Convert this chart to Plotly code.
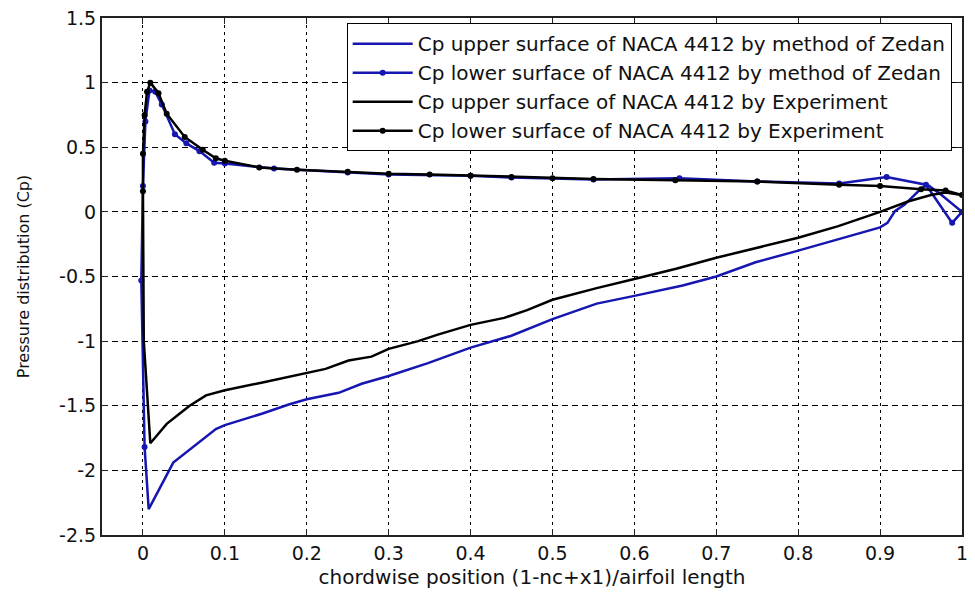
import plotly.graph_objects as go

# ---- data ----
zedan_upper_x = [0.002, 0.007, 0.037, 0.089, 0.1, 0.146, 0.178, 0.2, 0.239, 0.267, 0.3, 0.348,
                 0.4, 0.449, 0.5, 0.554, 0.6, 0.659, 0.7, 0.748, 0.8, 0.849, 0.9, 0.909, 0.918,
                 0.93, 0.95, 0.958, 0.975, 1.0]
zedan_upper_cp = [-1.82, -2.3, -1.94, -1.68, -1.65, -1.56, -1.49, -1.45, -1.40, -1.33, -1.27, -1.17,
                  -1.05, -0.96, -0.83, -0.71, -0.65, -0.57, -0.50, -0.39, -0.30, -0.21, -0.12, -0.085, 0.005,
                  0.056, 0.18, 0.21, 0.13, 0.0]

zedan_lower_x = [0.002, -0.002, 0.0, 0.003, 0.008, 0.015, 0.023, 0.039, 0.053, 0.069, 0.087, 0.1,
                 0.16, 0.25, 0.3, 0.4, 0.45, 0.55, 0.655, 0.75, 0.85, 0.908, 0.956, 0.988, 1.0]
zedan_lower_cp = [-1.82, -0.53, 0.2, 0.7, 0.94, 0.93, 0.83, 0.6, 0.53, 0.47, 0.38, 0.375,
                  0.335, 0.305, 0.29, 0.28, 0.265, 0.25, 0.26, 0.235, 0.22, 0.27, 0.21, -0.085, 0.0]

exp_upper_x = [0.0, 0.001, 0.009, 0.029, 0.045, 0.057, 0.077, 0.1, 0.146, 0.2, 0.223, 0.251, 0.279,
               0.3, 0.336, 0.36, 0.4, 0.441, 0.469, 0.5, 0.554, 0.6, 0.651, 0.7, 0.748, 0.8, 0.849,
               0.9, 0.934, 0.962, 0.98, 1.0]
exp_upper_cp = [0.16, -1.0, -1.79, -1.64, -1.56, -1.5, -1.42, -1.38, -1.32, -1.25, -1.215, -1.15, -1.12,
                -1.06, -1.0, -0.95, -0.874, -0.82, -0.76, -0.68, -0.59, -0.52, -0.44, -0.355, -0.28, -0.2, -0.11,
                0.0, 0.08, 0.13, 0.15, 0.13]

exp_lower_x = [0.0, 0.0, 0.002, 0.005, 0.009, 0.019, 0.029, 0.051, 0.073, 0.089, 0.1, 0.142, 0.188,
               0.25, 0.3, 0.35, 0.4, 0.45, 0.5, 0.55, 0.65, 0.75, 0.85, 0.9, 0.95, 0.98, 1.0]
exp_lower_cp = [0.16, 0.45, 0.75, 0.93, 1.0, 0.918, 0.76, 0.58, 0.48, 0.415, 0.395, 0.344, 0.326,
                0.31, 0.295, 0.29, 0.28, 0.27, 0.26, 0.255, 0.245, 0.235, 0.21, 0.2, 0.175, 0.165, 0.13]

series_names = [
    "Cp upper surface of NACA 4412 by method of Zedan",
    "Cp lower surface of NACA 4412 by method of Zedan",
    "Cp upper surface of NACA 4412 by Experiment",
    "Cp lower surface of NACA 4412 by Experiment",
]

x_tick_vals = [0, 0.1, 0.2, 0.3, 0.4, 0.5, 0.6, 0.7, 0.8, 0.9, 1]
x_tick_text = ["0", "0.1", "0.2", "0.3", "0.4", "0.5", "0.6", "0.7", "0.8", "0.9", "1"]
y_tick_vals = [-2.5, -2, -1.5, -1, -0.5, 0, 0.5, 1, 1.5]
y_tick_text = ["-2.5", "-2", "-1.5", "-1", "-0.5", "0", "0.5", "1", "1.5"]

BLUE = "#1616b0"
BLACK = "#000000"
FONT = "DejaVu Sans"

fig = go.Figure()
fig.add_trace(go.Scatter(x=zedan_upper_x, y=zedan_upper_cp, mode="lines", name=series_names[0],
                         line=dict(color=BLUE, width=2.5)))
fig.add_trace(go.Scatter(x=zedan_lower_x, y=zedan_lower_cp, mode="lines+markers", name=series_names[1],
                         line=dict(color=BLUE, width=2.5), marker=dict(color=BLUE, size=6, symbol="circle")))
fig.add_trace(go.Scatter(x=exp_upper_x, y=exp_upper_cp, mode="lines", name=series_names[2],
                         line=dict(color=BLACK, width=2.5)))
fig.add_trace(go.Scatter(x=exp_lower_x, y=exp_lower_cp, mode="lines+markers", name=series_names[3],
                         line=dict(color=BLACK, width=2.5), marker=dict(color=BLACK, size=6, symbol="circle")))

axis_common = dict(
    showline=True, linecolor="#222222", linewidth=2, mirror="ticks",
    ticks="inside", ticklen=6, tickcolor="#222222",
    showgrid=True, gridcolor="#000000", gridwidth=1.2, zeroline=False,
    tickfont=dict(family=FONT, size=19, color="#111111"),
)

fig.update_xaxes(**axis_common, range=[-0.05, 1.0], tickvals=x_tick_vals, ticktext=x_tick_text,
                 griddash="3px,4px",
                 title=dict(text="chordwise position (1-nc+x1)/airfoil length",
                            font=dict(family=FONT, size=20, color="#111111"), standoff=7))
fig.update_yaxes(**axis_common, range=[-2.5, 1.5], tickvals=y_tick_vals, ticktext=y_tick_text,
                 griddash="6px,4px",
                 title=dict(text="Pressure distribution (Cp)",
                            font=dict(family=FONT, size=16, color="#111111"), standoff=26))

fig.update_layout(
    width=975, height=595,
    margin=dict(l=102, r=7, t=16, b=60),
    plot_bgcolor="white", paper_bgcolor="white",
    font=dict(family=FONT, color="#111111"),
    showlegend=True,
    legend=dict(x=0.988, y=0.99, xanchor="right", yanchor="top",
                bgcolor="white", bordercolor="#000000", borderwidth=1,
                font=dict(family=FONT, size=20, color="#111111"),
                itemwidth=60, tracegroupgap=0),
)

fig.write_html("out.html", config={"displayModeBar": False},
               post_script="document.body.style.margin='0';")
